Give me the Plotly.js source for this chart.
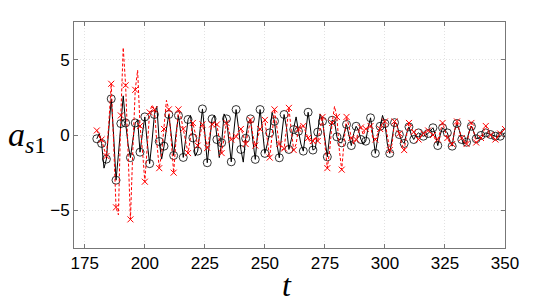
<!DOCTYPE html>
<html>
<head>
<meta charset="utf-8">
<script src="https://cdn.plot.ly/plotly-3.0.1.min.js"></script>
<style>html,body{margin:0;padding:0;background:#fff;}#chart{width:559px;height:305px;}</style>
</head>
<body>
<div id="chart"></div>
<script>
// time samples (t = 180 ... 350, step 1)
const tStart = 180, tEnd = 350;
const t = [];
for (let v = tStart; v <= tEnd; v++) t.push(v);

// black solid series (circles)
const blackSeries = [
 -0.25, 0.1, -0.56, -2.2, -1.6, 0.3, 2.4, 0.0, -3.0, -1.3,
 0.76, 2.6, 0.8, -0.6, -1.5, -0.4, 0.8, 1.0, -1.14, 0.1,
 1.2, -0.5, -1.9, -0.4, 1.36, 1.9, -0.43, -1.6, -0.74, 0.4,
 1.36, 0.0, -1.36, 0.1, 1.29, 0.1, -1.49, -0.3, 1.03, 1.3,
 -0.19, -1.4, -1.07, 0.4, 1.73, 0.1, -1.84, -0.4, 1.07, 1.3,
 -0.3, -1.5, -0.52, 1.4, 1.07, -0.5, -1.78, 0.1, 1.69, 0.5,
 -0.96, -1.8, -0.22, 0.8, 1.07, -0.4, -1.62, 0.2, 1.69, 0.3,
 -1.22, -0.6, 0.14, 1.5, 0.91, -0.6, -1.51, 0.0, 1.36, 0.5,
 -0.96, -0.3, 0.36, 1.2, 0.25, -0.6, -1.07, 0.2, 1.51, 0.4,
 -1.0, -0.9, 0.19, 1.4, 0.91, -0.4, -1.45, 0.0, 0.98, 0.9,
 -0.12, -0.5, -0.52, 0.1, 0.7, 0.0, -0.7, 0.1, 0.58, 0.3,
 -0.3, -0.6, -0.41, 0.5, 1.14, 0.0, -1.22, -0.2, 0.58, 1.3,
 0.76, -0.6, -1.22, -0.3, 0.82, 0.7, 0.03, -0.4, -0.56, 0.1,
 0.54, 0.0, -0.3, 0.0, 0.14, 0.0, -0.08, 0.0, 0.1, 0.3,
 0.48, 0.0, -0.7, 0.0, 0.48, 0.3, 0.14, -0.4, -0.74, 0.3,
 0.76, 0.3, -0.3, -0.6, -0.48, 0.2, 0.58, 0.2, -0.25, -0.2,
 -0.03, 0.0, 0.14, 0.1, 0.03, 0.0, -0.08, -0.1, -0.08, 0.0,
 0.15
];

// red dashed series (crosses)
const redSeries = [
 0.3, 0.0, -0.3, -0.9, -1.4, 0.8, 3.4, -0.5, -4.8, -5.3,
 1.3, 5.8, 3.3, -1.0, -5.6, -1.0, 3.0, 4.3, 0.6, -1.0,
 -3.1, -0.8, 1.5, 2.0, 1.7, -0.5, -2.2, -1.2, 0.4, 2.3,
 1.7, -0.3, -2.5, -0.3, 1.7, 1.2, 0.4, -0.5, -1.2, -0.2,
 0.8, 0.1, -0.7, 0.0, 0.7, 0.0, -0.85, 0.0, 0.7, 0.8,
 0.7, -0.3, -1.2, -0.2, 0.8, 0.3, -0.3, -0.3, -0.1, 0.2,
 0.4, 0.0, -0.6, 0.2, 1.0, 0.0, -0.7, -0.2, 0.4, 0.7,
 1.0, -0.3, -1.5, 0.0, 1.7, 0.5, -0.6, -1.0, -0.9, 0.4,
 1.8, 0.3, -1.0, -0.6, 0.4, 0.7, 0.6, 0.2, -0.2, -0.6,
 -0.4, -0.1, -0.4, 0.4, 1.2, -0.6, -2.2, -1.0, 0.8, 1.9,
 1.2, -1.0, -2.3, -0.4, 1.2, 0.6, -0.2, -0.6, -0.3, 0.2,
 0.5, 0.0, 0.4, 0.5, 0.6, -0.2, -0.3, 0.1, 0.4, 0.8,
 0.9, -0.2, -1.0, -0.6, 0.9, 0.6, 0.1, -0.6, -1.0, 0.0,
 0.8, 0.4, 0.2, 0.0, -0.3, -0.1, 0.1, 0.2, 0.3, 0.2,
 0.0, -0.3, -0.3, 0.2, 0.8, 0.3, -0.2, -0.5, -0.6, 0.3,
 0.9, 0.3, -0.2, -0.5, -0.6, 0.1, 0.8, 0.2, -0.5, -0.4,
 -0.2, 0.2, 0.6, 0.3, 0.0, -0.2, -0.3, -0.1, 0.1, 0.3,
 0.4
];

const xTickVals = [175, 200, 225, 250, 275, 300, 325, 350];
const yTickVals = [-5, 0, 5];
const yTickText = ['\u22125', '0', '5'];

// markers are drawn on every other sample
const markerStep = 2;
const mIdx = t.map((_, i) => i).filter(i => i % markerStep === 0);
const tm = mIdx.map(i => t[i]);
const bm = mIdx.map(i => blackSeries[i]);
const rm = mIdx.map(i => redSeries[i]);

const traces = [
  {x: t, y: blackSeries, mode: 'lines', line: {color: '#000', width: 1}, hoverinfo: 'skip'},
  {x: tm, y: bm, mode: 'markers', marker: {symbol: 'circle-open', size: 8, color: '#000', line: {width: 0.8, color: '#000'}}},
  {x: t, y: redSeries, mode: 'lines', line: {color: '#ff0000', width: 1, dash: '3px,2px'}},
  {x: tm, y: rm, mode: 'markers', marker: {symbol: 'x-thin', size: 6, line: {width: 1, color: '#ff0000'}}}
];

const axisCommon = {
  showline: true, linecolor: '#777', linewidth: 1, mirror: 'ticks',
  ticks: 'inside', ticklen: 4, tickcolor: '#777',
  showgrid: true, gridcolor: '#e2e2e2', griddash: '1px,2px', gridwidth: 1,
  zeroline: false,
  tickfont: {family: 'Liberation Sans, Arial, sans-serif', size: 17, color: '#000'}
};

const layout = {
  width: 559, height: 305,
  margin: {l: 74, r: 54, t: 22, b: 57},
  paper_bgcolor: '#fff', plot_bgcolor: '#fff',
  showlegend: false,
  xaxis: Object.assign({}, axisCommon, {range: [170.5, 350], tickvals: xTickVals, ticktext: xTickVals.map(String)}),
  yaxis: Object.assign({}, axisCommon, {range: [-7.5, 7.5], tickvals: yTickVals, ticktext: yTickText}),
  annotations: [
    {text: '<i>a</i><sub><i>s</i>1</sub>', xref: 'paper', yref: 'paper', x: -0.11, y: 0.49,
     xanchor: 'center', yanchor: 'middle', showarrow: false,
     font: {family: 'Liberation Serif, Times New Roman, serif', size: 34, color: '#000'}},
    {text: '<i>t</i>', xref: 'paper', yref: 'paper', x: 0.494, y: -0.165,
     xanchor: 'center', yanchor: 'middle', showarrow: false,
     font: {family: 'Liberation Serif, Times New Roman, serif', size: 32, color: '#000'}}
  ]
};

Plotly.newPlot('chart', traces, layout, {displayModeBar: false, staticPlot: true});
</script>
</body>
</html>
